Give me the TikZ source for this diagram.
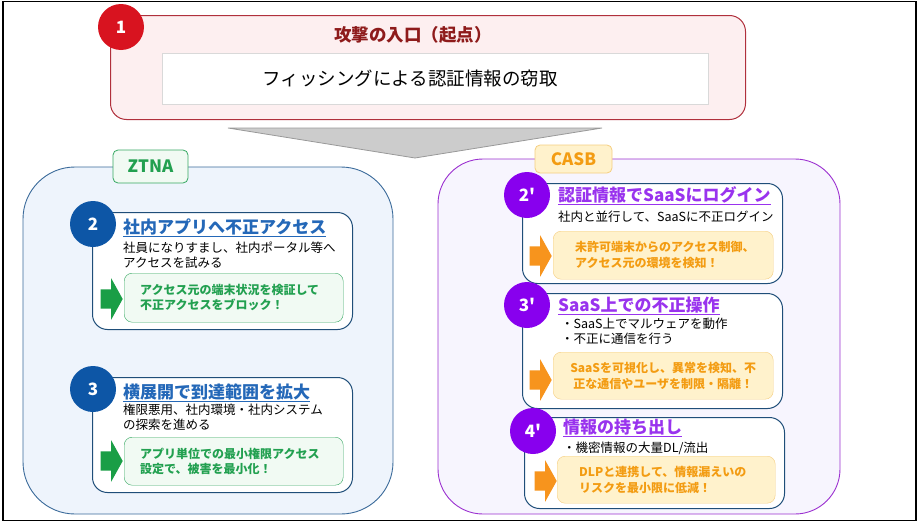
\documentclass[tikz,border=0pt]{standalone}
\usepackage{fontspec}
\setmainfont{Noto Sans CJK JP}
\newfontfamily\markfont{Noto Sans CJK JP}
\usetikzlibrary{positioning,shapes.arrows}
\definecolor{redmark}{HTML}{D8131F}
\definecolor{redline}{HTML}{B0303C}
\definecolor{redfill}{HTML}{FDEFF0}
\definecolor{redtitle}{HTML}{8E1B1B}
\definecolor{cardline}{HTML}{1F4E79}
\definecolor{ztblue}{HTML}{0D56A6}
\definecolor{zttitle}{HTML}{2468B8}
\definecolor{ztfill}{HTML}{EEF4FC}
\definecolor{ztline}{HTML}{3A6A9A}
\definecolor{okgreen}{HTML}{1A9E46}
\definecolor{gtext}{HTML}{22A050}
\definecolor{gfill}{HTML}{F1FAF3}
\definecolor{gline}{HTML}{36A862}
\definecolor{cbpurple}{HTML}{8800EE}
\definecolor{cbtitle}{HTML}{9933EE}
\definecolor{cbfill}{HTML}{F7F5FE}
\definecolor{cbline}{HTML}{9B30D0}
\definecolor{orarrow}{HTML}{F7941D}
\definecolor{otext}{HTML}{F39C12}
\definecolor{ofill}{HTML}{FFF2CC}
\definecolor{oline}{HTML}{F5CE80}
\newcommand{\fs}[2]{\fontsize{#1}{#2}\selectfont}
\newcommand{\headline}[1]{\vtop{\hbox{#1}\kern1.2pt\hrule height 1.3pt}}

\begin{document}
\begin{tikzpicture}[x=1pt, y=-1pt,
    card/.style={draw=cardline, fill=white, line width=1pt, rounded corners=15pt, anchor=north west, inner sep=0pt},
    numdot/.style={circle, minimum size=46pt, inner sep=0pt, text=white, font=\markfont\fs{17}{17}\bfseries},
    steptitle/.style={anchor=base west, inner sep=0pt, font=\fs{17}{20}\bfseries, text=#1},
    desc/.style={anchor=west, inner sep=0pt, align=left, font=\fs{12.5}{15}},
    gbox/.style={draw=gline, fill=gfill, rounded corners=8pt, anchor=north west, align=left, text=gtext, font=\fs{12}{14.5}\bfseries},
    obox/.style={draw=oline, fill=ofill, rounded corners=8pt, anchor=north west, align=left, text=otext, font=\fs{12}{16}\bfseries},
    fatarrow/.style={single arrow, fill=#1, inner sep=0pt, inner ysep=9.5pt, minimum height=22pt, single arrow head extend=11pt, single arrow tip angle=122},
    tag/.style={rounded corners=5pt, line width=0.8pt, inner sep=0pt, font=\fs{17}{17}\bfseries}]

  % frame and margins
  \useasboundingbox (0,0) rectangle (918,522);
  \draw[line width=1.1pt] (3,1.5) rectangle (916,520.5);

  % starting point
  \node[draw=redline, fill=redfill, rounded corners=16pt, line width=1pt, minimum width=635pt, minimum height=104pt, anchor=north west] (entry) at (110,15) {};
  \node[draw=black!15, fill=white, minimum width=546pt, minimum height=51pt, anchor=north west, font=\fs{18.5}{20}] (theft) at (162,53) {フィッシングによる認証情報の窃取\hspace*{50pt}};
  \node[font=\fs{17.5}{20}\bfseries, text=redtitle] (entrytitle) at (413,35) {攻撃の入口（起点）};
  \node[numdot, fill=redmark] (n1) at (121,27) {1};

  \filldraw[fill=black!20, draw=black!40, line width=0.8pt] (228,128) -- (602,128) -- (415,158) -- cycle;

  % ZTNA side
  \draw[draw=ztline, fill=ztfill, line width=0.9pt, rounded corners=52pt] (23,167) rectangle (393,514);
  \node[tag, draw=gline, fill=gfill, text=gtext, minimum width=75pt, minimum height=33pt] (ztna) at (150.5,166.5) {ZTNA};

  \node[card, minimum width=260pt, minimum height=117pt] (card2) at (92,212) {};
  \node[numdot, fill=ztblue] (n2) at (93,224) {2};
  \node[steptitle=zttitle] (t2) at (123,233) {\headline{社内アプリへ不正アクセス}};
  \node[desc] (d2) at (123,255) {社員になりすまし、社内ポータル等へ\\アクセスを試みる};
  \node[gbox, minimum width=219pt, minimum height=49pt, text width=187pt, inner xsep=16pt] (g2) at (124,273) {アクセス元の端末状況を検証して\\不正アクセスをブロック！};
  \node[fatarrow=okgreen] (a2) at (109,299) {};

  \node[card, minimum width=260pt, minimum height=115pt] (card3) at (92,377) {};
  \node[numdot, fill=ztblue] (n3) at (93,389) {3};
  \node[steptitle=zttitle] (t3) at (123,398) {\headline{横展開で到達範囲を拡大}};
  \node[desc] (d3) at (123,417) {権限悪用、社内環境・社内システム\\の探索を進める};
  \node[gbox, minimum width=219pt, minimum height=48pt, text width=187pt, inner xsep=16pt] (g3) at (124,437) {アプリ単位での最小権限アクセス\\設定で、被害を最小化！};
  \node[fatarrow=okgreen] (a3) at (109,461) {};

  % CASB side
  \draw[draw=cbline, fill=cbfill, line width=0.9pt, rounded corners=45pt] (438,159) rectangle (840,514);
  \node[tag, draw=oline, fill=ofill, text=otext, minimum width=77pt, minimum height=28pt] (casb) at (573.5,159) {CASB};

  \node[card, minimum width=260pt, minimum height=100pt] (card2b) at (522,183) {};
  \node[numdot, fill=cbpurple] (n2b) at (527,195) {2'};
  \node[steptitle=cbtitle] (t2b) at (558,201) {\headline{認証情報でSaaSにログイン}};
  \node[desc] (d2b) at (558,217) {社内と並行して、SaaSに不正ログイン};
  \node[obox, minimum width=220pt, minimum height=48pt, text width=176pt, inner xsep=22pt] (o2b) at (553,231) {未許可端末からのアクセス制御、\\アクセス元の環境を検知！};
  \node[fatarrow=orarrow] (a2b) at (538,256) {};

  \node[card, minimum width=260pt, minimum height=115pt] (card3b) at (522,293) {};
  \node[numdot, fill=cbpurple] (n3b) at (527,305) {3'};
  \node[steptitle=cbtitle] (t3b) at (558,311) {\headline{SaaS上での不正操作}};
  \node[desc] (d3b) at (561,331) {・SaaS上でマルウェアを動作\\・不正に通信を行う};
  \node[obox, minimum width=220pt, minimum height=47pt, text width=190pt, inner xsep=15pt, align=center] (o3b) at (553,352) {SaaSを可視化し、異常を検知、不\\正な通信やユーザを制限・隔離！};
  \node[fatarrow=orarrow] (a3b) at (538,380) {};

  \node[card, minimum width=260pt, minimum height=91pt] (card4b) at (524,417) {};
  \node[numdot, fill=cbpurple] (n4b) at (533,431) {4'};
  \node[steptitle=cbtitle] (t4b) at (563,433) {\headline{情報の持ち出し}};
  \node[desc] (d4b) at (563,448) {・機密情報の大量DL/流出};
  \node[obox, minimum width=218pt, minimum height=47pt, text width=174pt, inner xsep=22pt] (o4b) at (557,456) {DLPと連携して、情報漏えいの\\リスクを最小限に低減！};
  \node[fatarrow=orarrow] (a4b) at (543,481) {};
\end{tikzpicture}
\end{document}
